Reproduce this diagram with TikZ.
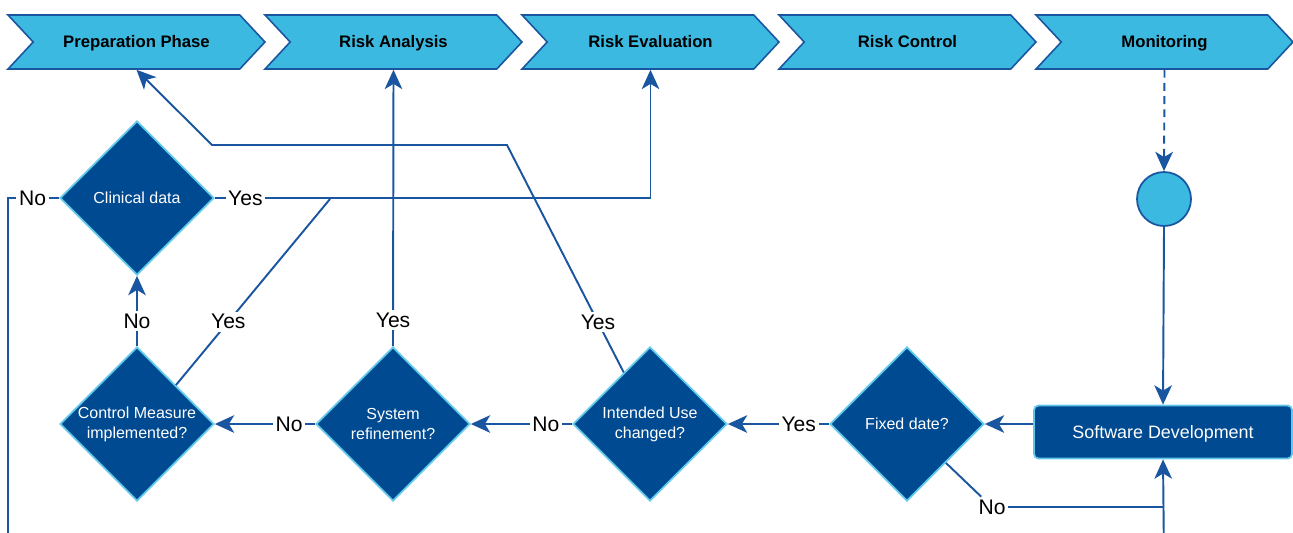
\documentclass[tikz,border=0pt]{standalone}
\usepackage{fontspec}
\setmainfont{Liberation Sans}
\usetikzlibrary{shapes.geometric, shapes.symbols, arrows.meta}
\definecolor{sky}{RGB}{60,185,224}
\definecolor{navy}{RGB}{0,74,146}
\definecolor{edge}{RGB}{26,86,160}
\definecolor{rim}{RGB}{95,200,235}

\begin{document}
\begin{tikzpicture}[x=0.02cm, y=-0.02cm]
\tikzset{phase/.style={signal, signal to=east, signal from=west, signal pointer angle=94, draw=edge, fill=sky, line width=0.9pt, minimum width=5.14cm, minimum height=1.08cm, inner sep=0pt, text height=6.6pt, text depth=0pt, font=\fontsize{9.5}{12}\selectfont\bfseries},
q/.style={diamond, draw=rim, fill=navy, line width=1pt, minimum width=3.08cm, minimum height=3.08cm, inner sep=0pt, align=center, text=white, font=\fontsize{9.1}{11.3}\selectfont},
lbl/.style={fill=white, inner sep=1.5pt, font=\fontsize{12}{14}\selectfont},
f/.style={-{Stealth[length=11pt, width=10pt, inset=3pt]}, draw=edge, line width=1.1pt},
l/.style={draw=edge, line width=1.1pt}};

\clip (0,0) rectangle (1293,532);

% phases along the top
\foreach \n/\x/\t in {pp/136.5/Preparation Phase, ra/393.5/Risk Analysis, re/650.5/Risk Evaluation, rc/907.5/Risk Control, mon/1164.5/Monitoring} {
	\node[phase] (\n) at (\x,42) {\t};
}

\node[circle, draw=edge, fill=sky, line width=1pt, minimum size=1.08cm] (dot) at (1164,199) {};
\node[draw=rim, fill=navy, line width=1pt, rounded corners=2.5pt, minimum width=5.16cm, minimum height=1.06cm, text height=7.3pt, text depth=0pt, text=white, font=\fontsize{10.2}{12}\selectfont] (sw) at (1163,432) {Software Development};

\node[q] (clin) at (137,198) {Clinical data};
\node[q] (cm) at (137,424) {Control Measure\\implemented?};
\node[q] (sys) at (393,424) {System\\refinement?};
\node[q] (int) at (650,424) {Intended Use\\changed?};
\node[q] (fix) at (907,424) {Fixed date?};

\coordinate (j1) at (330,199);
\coordinate (k1) at (507,145);
\coordinate (k2) at (212,145);
\coordinate (lb) at (8,560);
\coordinate (rb) at (1164,560);

\draw[f, dashed, dash pattern=on 4.5pt off 3pt] (mon.south) -- (dot.north);
\draw[f] (dot.south) -- (sw.north);
\draw[f] (sw.west |- fix.east) -- (fix.east);

\draw[f] (fix.west) -- node[lbl, pos=0.3] {Yes} (int.east);
\foreach \a/\b in {int/sys, sys/cm} {
	\draw[f] (\a.west) -- node[lbl, pos=0.26] {No} (\b.east);
}
\draw[f] (cm.north) -- node[lbl, pos=0.36] {No} (clin.south);
\draw[f] (sys.north) -- node[lbl, pos=0.094] {Yes} (ra.south);

% yes branches
\draw[l] (cm.45) -- node[lbl, pos=0.34] {Yes} (j1);
\draw[f] (clin.east) -- node[lbl, pos=0.07] {Yes} (clin.east -| re.south) -- (re.south);
\draw[f] (int.117) -- node[lbl, pos=0.22] {Yes} (k1) -- (k2) -- (pp.south);

% no branches back to development
\draw[l] (clin.west) -- node[lbl, pos=0.52] {No} (clin.west -| lb) -- (lb) -- (rb);
\node[lbl] (nofix) at (992,507) {No};
\draw[l] (fix.-45) -- (nofix);
\draw[l] (nofix.east) -- (nofix.east -| sw.south);
\draw[f] (rb) -- (sw.south);

\end{tikzpicture}
\end{document}
